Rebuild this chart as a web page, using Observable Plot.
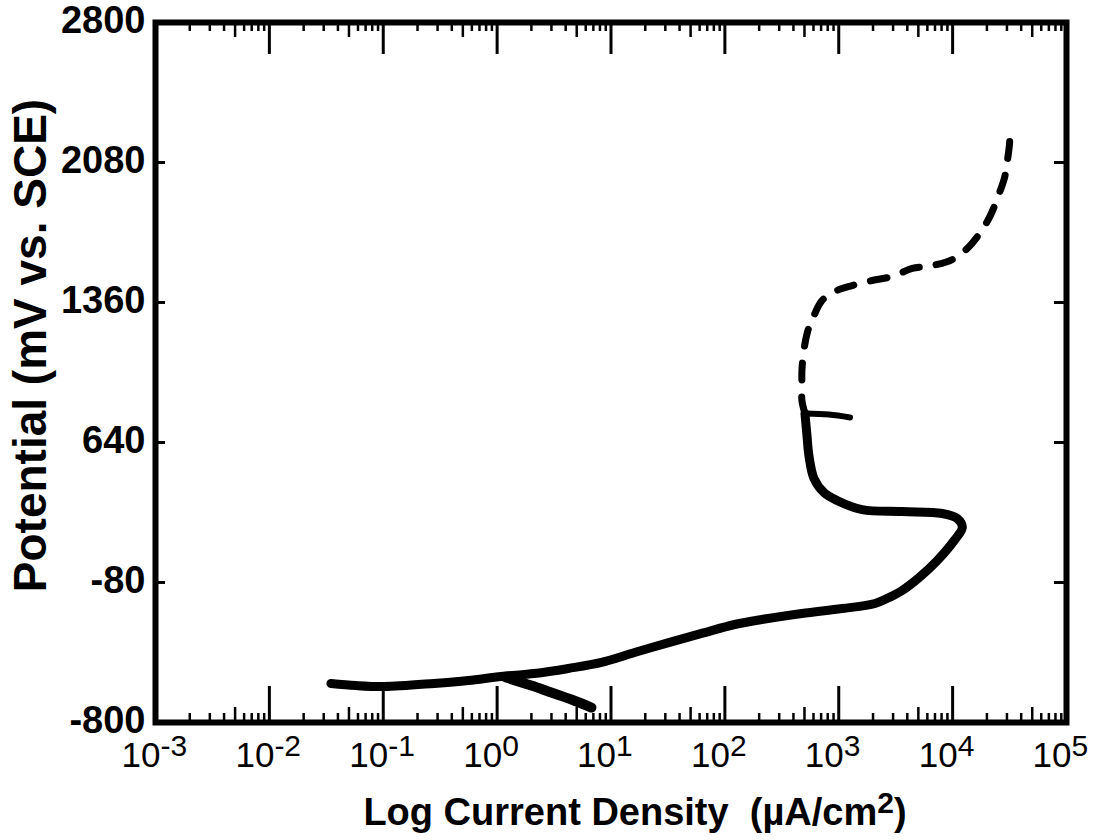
<!DOCTYPE html>
<html>
<head>
<meta charset="utf-8">
<script src="https://cdn.jsdelivr.net/npm/d3@7"></script>
<script src="https://cdn.jsdelivr.net/npm/@observablehq/plot@0.6"></script>
<style>
  body { margin: 0; background: #fff; }
  svg { font-family: "Liberation Sans", Arial, Helvetica, sans-serif; }
</style>
</head>
<body>
<div id="chart"></div>
<script>
// ---- Axis / tick data ----
const decadeExponents = ["-3", "-2", "-1", "0", "1", "2", "3", "4", "5"];
const minorMultipliers = [2, 3, 4, 6, 7, 8, 9];
const midMultipliers = [5];
const potentialTicks = [-800, -80, 640, 1360, 2080, 2800];
const innerPotentialTicks = [-80, 640, 1360, 2080];
const xLabel = "Log Current Density  (µA/cm2)";
const yLabel = "Potential (mV vs. SCE)";

// ---- Curve data (current density µA/cm², potential mV vs SCE) ----
const mainCurrent = [0.0347, 0.0575, 0.1017, 0.280, 0.557, 1.09, 2.12, 4.23, 8.25, 16.1, 32.1, 62.5, 122, 211, 475, 1069, 2085, 2769, 3603, 5084, 7324, 10330, 12160, 10990, 8110, 3603, 1603, 966, 741, 606, 547, 526, 505];
const mainPotential = [-599, -610, -615, -599, -584, -563, -548, -522, -491, -440, -389, -342, -296, -270, -239, -214, -188, -157, -121, -54, 33, 136, 203, 249, 275, 285, 295, 342, 383, 455, 573, 676, 789];
const lowerCurrent = [1.20, 2.00, 2.99, 4.49, 6.73];
const lowerPotential = [-569, -610, -646, -682, -723];
const stubCurrent = [505, 820, 1256];
const stubPotential = [789, 784, 769];
const dashCurrent = [505, 475, 475, 475, 494, 536, 606, 712, 966, 1309, 1963, 2943, 4413, 6619, 9931, 13450, 17500, 21430, 25230, 28460, 30270, 31500, 32150];
const dashPotential = [789, 856, 933, 1010, 1113, 1216, 1293, 1370, 1422, 1447, 1473, 1494, 1535, 1550, 1581, 1638, 1720, 1807, 1910, 1998, 2090, 2167, 2245];

// ---- Build tables ----
const zip = (xs, ys) => xs.map((x, i) => ({current: x, potential: ys[i]}));
const mainData = zip(mainCurrent, mainPotential);
const lowerData = zip(lowerCurrent, lowerPotential);
const stubData = zip(stubCurrent, stubPotential);
const dashData = zip(dashCurrent, dashPotential);

const decades = decadeExponents.map(e => ({value: Math.pow(10, +e), exp: e}));
const majorTicks = decades.map(d => d.value);
const lowerDecades = majorTicks.slice(0, -1);
const minorTicks = lowerDecades.flatMap(d => minorMultipliers.map(m => m * d));
const midTicks = lowerDecades.flatMap(d => midMultipliers.map(m => m * d));

const W = 1099, H = 840;
const mL = 155, mR = 33, mT = 22, mB = 118;
const FW = W - mL - mR, FH = H - mT - mB;

const svg = Plot.plot({
  width: W,
  height: H,
  marginLeft: mL,
  marginRight: mR,
  marginTop: mT,
  marginBottom: mB,
  style: {fontFamily: "'Liberation Sans', Arial, sans-serif", background: "#fff", color: "#000"},
  x: {type: "log", domain: [1e-3, 1e5], axis: null},
  y: {type: "linear", domain: [-800, 2800], axis: null},
  marks: [
    Plot.ruleX(majorTicks, {insetTop: FH - 36, stroke: "#000", strokeWidth: 3}),
    Plot.ruleX(midTicks, {insetTop: FH - 15, stroke: "#000", strokeWidth: 2.5}),
    Plot.ruleX(minorTicks, {insetTop: FH - 9, stroke: "#000", strokeWidth: 2.5}),
    Plot.ruleX(majorTicks, {insetBottom: FH - 32, stroke: "#000", strokeWidth: 3}),
    Plot.ruleX(midTicks, {insetBottom: FH - 15, stroke: "#000", strokeWidth: 2.5}),
    Plot.ruleX(minorTicks, {insetBottom: FH - 9, stroke: "#000", strokeWidth: 2.5}),
    Plot.ruleY(innerPotentialTicks, {insetRight: FW - 10, stroke: "#000", strokeWidth: 3}),
    Plot.ruleY(innerPotentialTicks, {insetLeft: FW - 12, stroke: "#000", strokeWidth: 3}),
    Plot.frame({stroke: "#000", strokeWidth: 6}),
    Plot.axisY({ticks: potentialTicks, tickSize: 0, tickPadding: 10, tickFormat: d => String(d),
      fontSize: 38, fontWeight: "bold", label: null, dy: -2}),
    Plot.text(decades, {x: "value", frameAnchor: "bottom", text: () => "10", textAnchor: "end",
      lineAnchor: "bottom", dx: 5, dy: 44, fontSize: 35}),
    Plot.text(decades, {x: "value", frameAnchor: "bottom", text: "exp", textAnchor: "start",
      lineAnchor: "bottom", dx: 5, dy: 33, fontSize: 30}),
    Plot.text([xLabel], {frameAnchor: "bottom", text: d => d, textAnchor: "middle", dx: 24, dy: 102,
      lineAnchor: "bottom", fontSize: 38, fontWeight: "bold"}),
    Plot.text([yLabel], {frameAnchor: "left", text: d => d, rotate: -90, textAnchor: "middle",
      dx: -124, dy: -27, fontSize: 46, fontWeight: "bold"}),
    Plot.line(dashData, {x: "current", y: "potential", stroke: "#000", strokeWidth: 7,
      strokeDasharray: "17,17", strokeLinecap: "round", strokeLinejoin: "round", curve: "catmull-rom"}),
    Plot.line(stubData, {x: "current", y: "potential", stroke: "#000", strokeWidth: 6,
      strokeLinecap: "round", curve: "catmull-rom"}),
    Plot.line(lowerData, {x: "current", y: "potential", stroke: "#000", strokeWidth: 10,
      strokeLinecap: "round", curve: "catmull-rom"}),
    Plot.line(mainData, {x: "current", y: "potential", stroke: "#000", strokeWidth: 9,
      strokeLinecap: "round", strokeLinejoin: "round", curve: "catmull-rom"})
  ]
});

// superscript "2" in the x-axis title
d3.select(svg).selectAll("text").filter(function() { return this.textContent === xLabel; }).each(function() {
  const t = d3.select(this);
  const idx = xLabel.lastIndexOf("2");
  t.text(null).style("white-space", "pre");
  t.append("tspan").text(xLabel.slice(0, idx));
  t.append("tspan").attr("dy", -12).attr("font-size", 30).text(xLabel.slice(idx, idx + 1));
  t.append("tspan").attr("dy", 12).text(xLabel.slice(idx + 1));
});

document.getElementById("chart").appendChild(svg);
</script>
</body>
</html>
